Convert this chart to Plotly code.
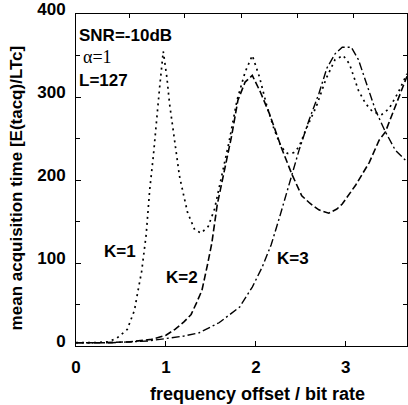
import plotly.graph_objects as go

# ---- data ----
k1_x = [0, 0.2, 0.35, 0.45, 0.57, 0.65, 0.69, 0.73, 0.78, 0.82, 0.86, 0.89, 0.93, 0.97,
        1.01, 1.04, 1.08, 1.11, 1.15, 1.19, 1.24, 1.32, 1.39, 1.47, 1.54, 1.62, 1.70, 1.79,
        1.88, 1.96, 2.04, 2.12, 2.20, 2.28, 2.35, 2.42, 2.48, 2.56, 2.67, 2.78, 2.88, 2.97,
        3.04, 3.14, 3.22, 3.30, 3.40, 3.48, 3.58, 3.68]
k1_y = [4, 4, 5, 9, 20, 43, 67, 90, 134, 189, 229, 268, 312, 355,
        324, 292, 260, 237, 205, 185, 161, 140, 136, 144, 165, 205, 245, 296,
        330, 350, 324, 290, 262, 240, 232, 233, 240, 262, 288, 322, 345, 350,
        340, 308, 292, 282, 279, 286, 305, 328]

k2_x = [0, 0.3, 0.6, 0.84, 1.0, 1.10, 1.20, 1.28, 1.34, 1.40, 1.46, 1.51, 1.57, 1.65,
        1.73, 1.80, 1.88, 1.96, 2.05, 2.15, 2.29, 2.40, 2.51, 2.60, 2.70, 2.81, 2.90,
        2.96, 3.11, 3.26, 3.37, 3.44, 3.55, 3.68]
k2_y = [4, 4, 5, 8, 13, 20, 29, 38, 52, 67, 97, 124, 170, 213,
        253, 296, 318, 326, 306, 280, 237, 207, 181, 172, 164, 160, 165,
        171, 194, 221, 248, 258, 288, 325]

k3_x = [0, 0.4, 0.8, 1.0, 1.2, 1.37, 1.59, 1.82, 1.96, 2.07, 2.17, 2.26, 2.33, 2.40,
        2.48, 2.59, 2.70, 2.79, 2.88, 2.96, 3.06, 3.14, 3.22, 3.33, 3.44, 3.55, 3.68]
k3_y = [4, 4, 6, 9, 12, 16, 28, 47, 71, 95, 122, 154, 180, 207,
        236, 272, 304, 335, 352, 360, 360, 345, 320, 284, 258, 236, 222]

x_ticks = [0, 1, 2, 3]
x_tick_labels = ["0", "1", "2", "3"]
y_ticks = [0, 100, 200, 300, 400]
y_tick_labels = ["0", "100", "200", "300", "400"]
top_ticks = [0.60, 1.21, 1.84, 2.46, 3.08]

FONT = "Liberation Sans, Arial, sans-serif"

fig = go.Figure()
fig.add_trace(go.Scatter(x=k1_x, y=k1_y, mode="lines", name="K=1",
                         line=dict(color="black", width=1.7, dash="2px,4px")))
fig.add_trace(go.Scatter(x=k2_x, y=k2_y, mode="lines", name="K=2",
                         line=dict(color="black", width=1.6, dash="7px,3px")))
fig.add_trace(go.Scatter(x=k3_x, y=k3_y, mode="lines", name="K=3",
                         line=dict(color="black", width=1.4, dash="8px,3px,2px,3px")))
fig.add_trace(go.Scatter(x=[], y=[], xaxis="x2", showlegend=False))

axis_font = dict(family=FONT, size=17, color="black", weight="bold")

fig.update_layout(
    width=408, height=405,
    margin=dict(l=76, r=0, t=9, b=59),
    paper_bgcolor="white", plot_bgcolor="white",
    showlegend=False,
    xaxis=dict(range=[0, 3.68], tickvals=x_ticks, ticktext=x_tick_labels,
               ticks="inside", ticklen=5, tickcolor="black", showgrid=False,
               zeroline=False, showline=True, linecolor="black", linewidth=1,
               mirror=True, tickfont=axis_font, ticklabelstandoff=6),
    xaxis2=dict(range=[0, 3.68], overlaying="x", side="top", anchor="y",
                tickvals=top_ticks, showticklabels=False, ticks="inside",
                ticklen=4, tickcolor="black", showgrid=False, zeroline=False,
                showline=False),
    yaxis=dict(range=[0, 400.01], tickvals=y_ticks, ticktext=y_tick_labels,
               ticks="inside", ticklen=5, tickcolor="black", showgrid=False,
               zeroline=False, showline=True, linecolor="black", linewidth=1,
               mirror="ticks", tickfont=axis_font, ticklabelstandoff=6,
               ticklabelshift=-5, ticklabeloverflow="allow",
               minor=dict(dtick=50, ticks="inside", ticklen=4, tickcolor="black",
                          showgrid=False)),
)

ann_font = dict(family=FONT, size=17, color="black", weight="bold")
annotations = [
    dict(text="SNR=-10dB", x=0.003, y=0.935, xanchor="left", yanchor="middle", font=ann_font),
    dict(text="α=1", x=0.015, y=0.87, xanchor="left", yanchor="middle",
         font=dict(family="Liberation Serif, Times New Roman, serif", size=18, color="black")),
    dict(text="L=127", x=0.003, y=0.80, xanchor="left", yanchor="middle", font=ann_font),
    dict(text="K=1", x=0.08, y=0.285, xanchor="left", yanchor="middle", font=ann_font),
    dict(text="K=2", x=0.267, y=0.205, xanchor="left", yanchor="middle", font=ann_font),
    dict(text="K=3", x=0.60, y=0.265, xanchor="left", yanchor="middle", font=ann_font),
    dict(text="frequency offset / bit rate", x=0.548, y=-0.145, xanchor="center",
         yanchor="middle", font=dict(family=FONT, size=18, color="black", weight="bold")),
    dict(text="mean acquisition time [E(tacq)/LTc]", x=-0.181, y=0.475, textangle=-90,
         xanchor="center", yanchor="middle", font=ann_font),
]
for a in annotations:
    fig.add_annotation(xref="paper", yref="paper", showarrow=False, **a)

fig.write_html("out.html", config={"displayModeBar": False},
               post_script="document.body.style.margin='0px';")
